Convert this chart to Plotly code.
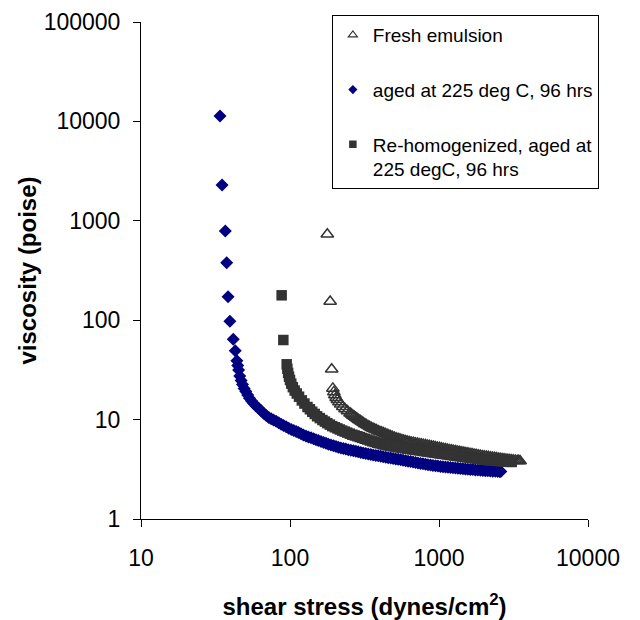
import plotly.graph_objects as go

# ---- data ----
fresh_x = [178, 186, 190.5, 194, 197, 200, 204, 208, 213, 219, 226, 234, 243, 253, 258.5, 264, 270, 276,
           282.5, 289, 296, 303, 310.5, 318, 326, 334, 342.5, 351, 360.5, 370, 380, 390, 401, 412,
           423.5, 435, 447.5, 460, 473.5, 487, 501.5, 516, 531.5, 547, 563.5, 580, 598, 616, 635,
           654, 674.5, 695, 717, 739, 762.5, 786, 811, 836, 862.5, 889, 917.5, 946, 976.5, 1007,
           1039.5, 1072, 1106.5, 1141, 1178, 1215, 1254.5, 1294, 1336, 1378, 1423, 1468, 1516, 1564,
           1615, 1666, 1720.5, 1775, 1833, 1891, 1953, 2015, 2081, 2147, 2217.5, 2288, 2363, 2438,
           2518, 2598, 2683.5, 2769, 2860, 2951, 3048, 3145, 3247.5, 3350, 3425, 3500]
fresh_y = [731, 154, 32.1, 20.6, 19.0, 17.7, 16.6, 15.8, 15.0, 14.3, 13.5, 12.8, 12.2, 11.6, 11.3, 11.0,
           10.75, 10.5, 10.2, 9.95, 9.72, 9.5, 9.27, 9.05, 8.85, 8.65, 8.47, 8.3, 8.15, 8.0, 7.85,
           7.7, 7.57, 7.45, 7.32, 7.2, 7.07, 6.95, 6.83, 6.72, 6.61, 6.5, 6.41, 6.33, 6.25, 6.18,
           6.1, 6.03, 5.96, 5.9, 5.85, 5.8, 5.75, 5.7, 5.65, 5.6, 5.55, 5.5, 5.45, 5.4, 5.35, 5.3,
           5.25, 5.2, 5.15, 5.1, 5.05, 5.0, 4.96, 4.92, 4.87, 4.83, 4.78, 4.74, 4.7, 4.66, 4.62,
           4.58, 4.54, 4.5, 4.46, 4.42, 4.38, 4.35, 4.31, 4.28, 4.25, 4.22, 4.19, 4.16, 4.13, 4.1,
           4.07, 4.04, 4.01, 3.99, 3.96, 3.94, 3.92, 3.9, 3.88, 3.86, 3.85, 3.83]

aged_x = [33.9, 35.0, 36.8, 37.6, 38.4, 39.5, 41.6, 42.9, 44, 44.6, 45.2, 46, 47, 48, 49.2, 50.5, 52,
          53.5, 55.2, 57, 59.2, 61.5, 64, 66.5, 69.2, 72, 74.7, 77.5, 80.7, 84, 87.2, 90.5, 94.2,
          98, 102, 106, 110, 114, 118.5, 123, 128, 133, 138.5, 144, 149.5, 155, 161.5, 168, 174.5,
          181, 188.5, 196, 203.5, 211, 219.5, 228, 237, 246, 256, 266, 276.5, 287, 298.5, 310,
          322.5, 335, 348.5, 362, 376.5, 391, 406.5, 422, 439, 456, 474, 492, 512, 532, 553, 574,
          597, 620, 645, 670, 696, 723, 752, 781, 812, 844, 877, 911, 947, 984, 1023, 1063, 1105,
          1148, 1194, 1240, 1289, 1339, 1392, 1446, 1504, 1562, 1624, 1687, 1754, 1822, 1895, 1968,
          2046, 2125, 2210, 2295, 2386, 2480, 2550, 2600]
aged_y = [11330, 2290, 789, 379, 172, 97.5, 64.3, 49.3, 39, 35, 31.5, 27.5, 24.8, 22.5, 20.6, 19.2,
          17.7, 16.4, 15.4, 14.5, 13.7, 13.0, 12.3, 11.6, 11.0, 10.5, 10.2, 9.9, 9.6, 9.3, 9.0, 8.7,
          8.45, 8.2, 7.97, 7.75, 7.57, 7.4, 7.2, 7.0, 6.85, 6.7, 6.55, 6.4, 6.27, 6.15, 6.02, 5.9,
          5.77, 5.65, 5.55, 5.45, 5.36, 5.27, 5.19, 5.12, 5.05, 4.98, 4.92, 4.86, 4.8, 4.74, 4.68,
          4.62, 4.56, 4.51, 4.45, 4.4, 4.36, 4.32, 4.27, 4.23, 4.18, 4.14, 4.1, 4.06, 4.02, 3.98,
          3.94, 3.9, 3.86, 3.82, 3.78, 3.74, 3.7, 3.66, 3.62, 3.59, 3.55, 3.52, 3.49, 3.46, 3.43,
          3.41, 3.38, 3.36, 3.33, 3.31, 3.29, 3.27, 3.25, 3.24, 3.22, 3.21, 3.19, 3.17, 3.15, 3.14,
          3.12, 3.11, 3.09, 3.08, 3.06, 3.05, 3.04, 3.03, 3.02, 3.01, 3.0, 3.0]

rehom_x = [87.9, 90.2, 95, 96, 97.2, 98.5, 100, 102, 104.5, 107.5, 111, 115, 120, 125, 131, 136, 141,
           146.5, 152, 158.5, 165, 171.5, 178, 185, 192, 200, 208, 216, 224, 233, 242, 252, 262,
           272.5, 283, 294, 305, 317.5, 330, 343, 356, 370.5, 385, 400, 415, 432, 449, 467, 485,
           504, 523, 544, 565, 588, 611, 635.5, 660, 686, 712, 740.5, 769, 800, 831, 864, 897, 933,
           969, 1008, 1047, 1088.5, 1130, 1175.5, 1221, 1269.5, 1318, 1371, 1424, 1481, 1538,
           1599.5, 1661, 1727.5, 1794, 1865.5, 1937, 2014.5, 2092, 2176, 2260, 2350, 2440, 2538,
           2636, 2741.5, 2847, 2961.5, 3076]
rehom_y = [178, 63.2, 36, 32.5, 29.5, 27, 25, 23, 21.2, 19.6, 18.3, 17, 15.6, 14.5, 13.4, 12.7, 12.0,
           11.4, 10.8, 10.35, 9.9, 9.55, 9.2, 8.9, 8.6, 8.37, 8.15, 7.95, 7.75, 7.57, 7.4, 7.22,
           7.05, 6.92, 6.8, 6.67, 6.55, 6.42, 6.3, 6.17, 6.05, 5.95, 5.85, 5.76, 5.68, 5.6, 5.52,
           5.46, 5.4, 5.35, 5.3, 5.25, 5.2, 5.15, 5.1, 5.06, 5.02, 4.98, 4.94, 4.9, 4.85, 4.81,
           4.77, 4.73, 4.69, 4.65, 4.61, 4.57, 4.53, 4.5, 4.46, 4.42, 4.39, 4.35, 4.32, 4.28, 4.25,
           4.21, 4.18, 4.14, 4.11, 4.08, 4.05, 4.02, 3.99, 3.96, 3.94, 3.91, 3.89, 3.87, 3.85, 3.83,
           3.81, 3.79, 3.78, 3.76, 3.75]

series_names = ["Fresh emulsion", "aged at 225 deg C, 96 hrs",
                "Re-homogenized, aged at<br>225 degC, 96 hrs"]

x_ticks = [10, 100, 1000, 10000]
x_tick_labels = ["10", "100", "1000", "10000"]
y_ticks = [1, 10, 100, 1000, 10000, 100000]
y_tick_labels = ["1", "10", "100", "1000", "10000", "100000"]

FONT = "Liberation Sans, Arial, sans-serif"
DARK = "#333333"
NAVY = "#000080"

fig = go.Figure()
# data traces (legend entries drawn by the small legend-only traces below)
fig.add_trace(go.Scatter(
    x=fresh_x, y=fresh_y, mode="markers", name=series_names[0], showlegend=False,
    marker=dict(symbol="triangle-up-open", size=11, color=DARK, line=dict(width=1.5, color=DARK))))
fig.add_trace(go.Scatter(
    x=aged_x, y=aged_y, mode="markers", name=series_names[1], showlegend=False,
    marker=dict(symbol="diamond", size=10, color=NAVY, line=dict(width=0))))
fig.add_trace(go.Scatter(
    x=rehom_x, y=rehom_y, mode="markers", name=series_names[2], showlegend=False,
    marker=dict(symbol="square", size=10.5, color=DARK, line=dict(width=0))))

# legend entries with the small symbols of the reference
fig.add_trace(go.Scatter(
    x=[None], y=[None], mode="markers", name=series_names[0], legendgroup="a", legendrank=1,
    marker=dict(symbol="triangle-up-open", size=8, color=DARK, line=dict(width=1.1, color=DARK))))
fig.add_trace(go.Scatter(
    x=[None], y=[None], mode="markers", name=series_names[1], legendgroup="b", legendrank=2,
    marker=dict(symbol="diamond", size=7, color=NAVY, line=dict(width=0))))
fig.add_trace(go.Scatter(
    x=[None], y=[None], mode="markers", name=series_names[2], legendgroup="c", legendrank=3,
    marker=dict(symbol="square", size=7.5, color=DARK, line=dict(width=0))))

fig.update_layout(
    width=640, height=620,
    margin=dict(l=141, r=52, t=22, b=101, autoexpand=False),
    paper_bgcolor="white", plot_bgcolor="white",
    font=dict(family=FONT, color="black"),
    showlegend=True,
    legend=dict(
        x=0.427, y=1.014, xanchor="left", yanchor="top",
        bgcolor="white", bordercolor="black", borderwidth=1,
        font=dict(family=FONT, size=19, color="black"),
        traceorder="grouped", tracegroupgap=27, valign="top",
    ),
)
fig.update_xaxes(
    type="log", range=[1, 4], tickvals=x_ticks, ticktext=x_tick_labels,
    showgrid=False, zeroline=False, showline=True, linecolor="black", linewidth=1,
    ticks="outside", ticklen=7, tickcolor="black", tickwidth=1,
    tickfont=dict(family=FONT, size=23, color="black"), ticklabelstandoff=11,
    title=dict(text="<b>shear stress (dynes/cm<sup>2</sup>)</b>",
               font=dict(family=FONT, size=24, color="black"), standoff=28),
    automargin=False,
)
fig.update_yaxes(
    type="log", range=[0, 5], tickvals=y_ticks, ticktext=y_tick_labels,
    showgrid=False, zeroline=False, showline=True, linecolor="black", linewidth=1,
    ticks="outside", ticklen=7, tickcolor="black", tickwidth=1,
    tickfont=dict(family=FONT, size=23, color="black"), ticklabelstandoff=8,
    title=dict(text="<b>viscosity (poise)</b>",
               font=dict(family=FONT, size=24, color="black"), standoff=0),
    automargin=False,
)

fig.write_html("out.html")
